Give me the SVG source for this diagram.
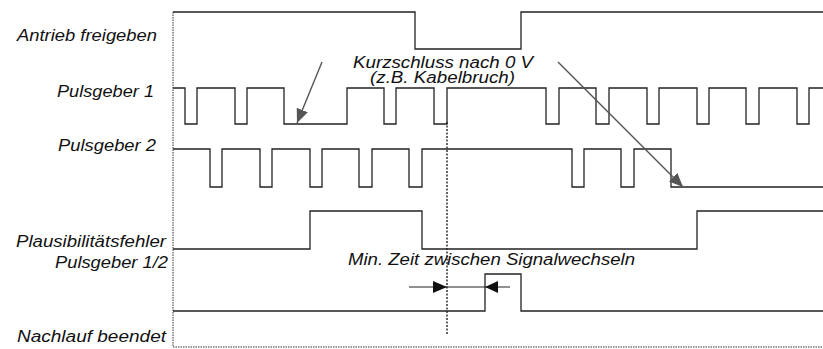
<svg xmlns="http://www.w3.org/2000/svg" width="823" height="349" viewBox="0 0 823 349">
<style>
.lbl{font-family:"Liberation Sans",Arial,sans-serif;font-style:italic;font-size:16px;fill:#111}
.sig{fill:none;stroke:#222;stroke-width:1.3}
.dot{fill:none;stroke:#333;stroke-width:1;stroke-dasharray:1.5 1}
.arr{fill:none;stroke:#555;stroke-width:1.4}
</style>
<defs>
<marker id="ah" viewBox="0 0 14 12" refX="14" refY="6" markerWidth="14" markerHeight="12" markerUnits="userSpaceOnUse" orient="auto">
<path d="M0,0 L14,6 L0,12 Z" fill="#555"/>
</marker>
</defs>
<rect width="823" height="349" fill="#fff"/>
<g id="frame">
<path class="dot" d="M173,12 V347 H823"/>
<path class="dot" d="M447,122 V334" style="stroke-width:1.5;stroke-dasharray:2 1.5"/>
</g>
<g id="antrieb">
<text class="lbl" x="17" y="41" textLength="140" lengthAdjust="spacingAndGlyphs">Antrieb freigeben</text>
<path class="sig" d="M173,12 H415 V49 H521 V12 H823"/>
</g>
<g id="pulsgeber1">
<text class="lbl" x="57" y="97" textLength="97" lengthAdjust="spacingAndGlyphs">Pulsgeber 1</text>
<path class="sig" d="M173,88 H185 V124 H197 V88 H235 V124 H247 V88 H284 V124 H347 V88 H384 V124 H396 V88 H434 V124 H447 V88 H546 V124 H559 V88 H596 V124 H609 V88 H647 V124 H659 V88 H697 V124 H709 V88 H746 V124 H759 V88 H797 V124 H809 V88 H823"/>
</g>
<g id="pulsgeber2">
<text class="lbl" x="58" y="151" textLength="98" lengthAdjust="spacingAndGlyphs">Pulsgeber 2</text>
<path class="sig" d="M173,149 H210 V187 H222 V149 H260 V187 H272 V149 H310 V187 H322 V149 H359 V187 H372 V149 H409 V187 H422 V149 H572 V187 H584 V149 H621 V187 H634 V149 H671 V187 H823"/>
</g>
<g id="plausi">
<text class="lbl" x="16" y="247" textLength="150" lengthAdjust="spacingAndGlyphs">Plausibilitätsfehler</text>
<path class="sig" d="M173,249 H310 V211 H422 V249 H697 V211 H823"/>
</g>
<g id="pulsgeber12">
<text class="lbl" x="55" y="268" textLength="113" lengthAdjust="spacingAndGlyphs">Pulsgeber 1/2</text>
<path class="sig" d="M173,311 H485 V274 H521 V311 H823"/>
</g>
<g id="nachlauf">
<text class="lbl" x="17" y="342" textLength="149" lengthAdjust="spacingAndGlyphs">Nachlauf beendet</text>
</g>
<g id="annotations">
<text class="lbl" x="353" y="68" textLength="180" lengthAdjust="spacingAndGlyphs">Kurzschluss nach 0 V</text>
<text class="lbl" x="370" y="83" textLength="145" lengthAdjust="spacingAndGlyphs">(z.B. Kabelbruch)</text>
<text class="lbl" x="348" y="265" textLength="287" lengthAdjust="spacingAndGlyphs">Min. Zeit zwischen Signalwechseln</text>
</g>
<g id="connectors">
<line class="arr" x1="322" y1="62" x2="297" y2="123" marker-end="url(#ah)"/>
<line class="arr" x1="558" y1="62" x2="683" y2="187" marker-end="url(#ah)"/>
<line x1="409" y1="287" x2="510" y2="287" stroke="#222" stroke-width="1.2"/>
<polygon points="433,281 447,287 433,293" fill="#111"/>
<polygon points="498,281 485,287 498,293" fill="#111"/>
</g>
</svg>
